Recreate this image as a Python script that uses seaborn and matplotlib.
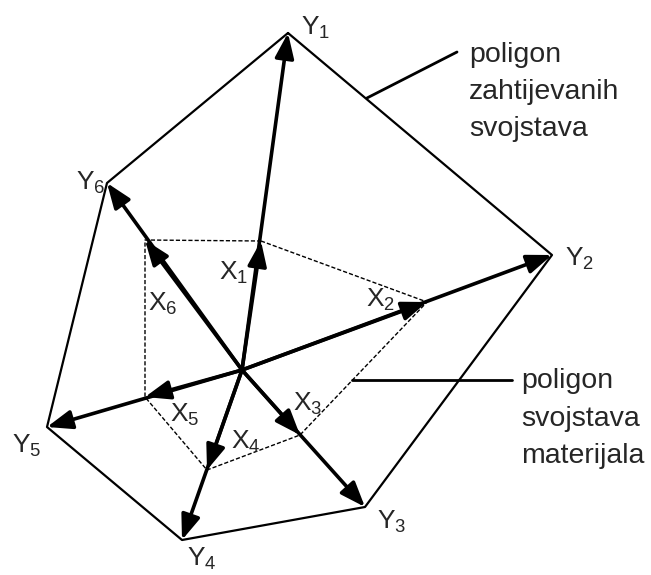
import pandas as pd
import matplotlib.pyplot as plt
import seaborn as sns

sns.set_theme(style="white")
plt.rcParams['font.family'] = ['Liberation Sans', 'DejaVu Sans']
plt.rcParams['mathtext.fontset'] = 'custom'
plt.rcParams['mathtext.rm'] = 'Liberation Sans'
plt.rcParams['mathtext.it'] = 'Liberation Sans:italic'

# centre of the star (drawing coordinates, y grows downward)
CENTER = (242, 370)

# required properties: outer polygon / long arrows
Y_LABELS = ['Y$_1$', 'Y$_2$', 'Y$_3$', 'Y$_4$', 'Y$_5$', 'Y$_6$']
Y_X = [288, 552, 365, 182, 47, 107]
Y_Y = [33, 255, 507, 540, 427, 183]

# material properties: inner (dashed) polygon / short arrows
X_LABELS = ['X$_1$', 'X$_2$', 'X$_3$', 'X$_4$', 'X$_5$', 'X$_6$']
X_X = [261, 427, 300, 207, 145, 145]
X_Y = [241, 302, 435, 470, 397, 240]

# label positions
Y_LAB_X = [316, 580, 392, 202, 27, 91]
Y_LAB_Y = [28, 259, 522, 559, 446, 183]
X_LAB_X = [234, 381, 308, 246, 185, 163]
X_LAB_Y = [273, 300, 404, 442, 415, 304]

NOTE_TOP = ['poligon', 'zahtijevanih', 'svojstava']
NOTE_TOP_BASE = [62, 99, 136]
NOTE_BOTTOM = ['poligon', 'svojstava', 'materijala']
NOTE_BOTTOM_BASE = [388, 426, 463]


def closed(xs, ys):
    return pd.DataFrame({'x': list(xs) + [xs[0]], 'y': list(ys) + [ys[0]],
                         'order': range(len(xs) + 1)})


fig = plt.figure(figsize=(6.51, 5.75), dpi=100)
ax = fig.add_axes([0, 0, 1, 1])

outer = closed(Y_X, Y_Y)
inner = closed(X_X, X_Y)
sns.lineplot(data=outer, x='x', y='y', sort=False, estimator=None,
             color='black', lw=1.6, ax=ax)
sns.lineplot(data=inner, x='x', y='y', sort=False, estimator=None,
             color='black', lw=1.0, ax=ax, dashes=False)
ax.lines[-1].set_dashes((3, 1.5))

arrow = dict(arrowstyle='-|>,head_length=0.95,head_width=0.36', lw=2.6,
             color='black', mutation_scale=16, shrinkA=0, shrinkB=0)
for yx, yy, xx, xy in zip(Y_X, Y_Y, X_X, X_Y):
    ax.annotate('', xy=(yx, yy), xytext=CENTER, arrowprops=arrow)
    ax.annotate('', xy=(xx, xy), xytext=CENTER, arrowprops=arrow)

for lab, lx, ly in zip(Y_LABELS, Y_LAB_X, Y_LAB_Y):
    ax.text(lx, ly, lab, fontsize=19, ha='center', va='center')
for lab, lx, ly in zip(X_LABELS, X_LAB_X, X_LAB_Y):
    ax.text(lx, ly, lab, fontsize=19, ha='center', va='center')

# leader lines to the notes
ax.plot([367, 457], [98, 52], color='black', lw=2.0)
ax.plot([352, 512], [380, 380], color='black', lw=2.0)
for line, base in zip(NOTE_TOP, NOTE_TOP_BASE):
    ax.text(469, base, line, fontsize=20.5, ha='left', va='baseline')
for line, base in zip(NOTE_BOTTOM, NOTE_BOTTOM_BASE):
    ax.text(521, base, line, fontsize=20.5, ha='left', va='baseline')

ax.set_xlim(0, 651)
ax.set_ylim(575, 0)
ax.set_axis_off()
fig.savefig('out.png', dpi=100)
